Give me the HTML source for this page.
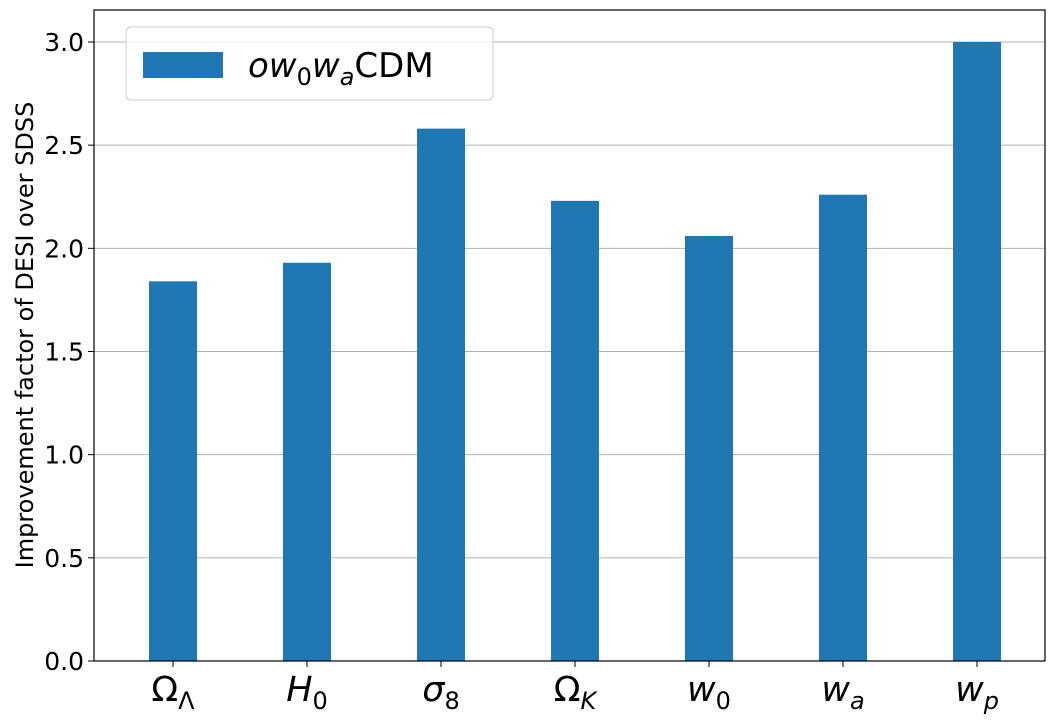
<!DOCTYPE html>
<html><head><meta charset="utf-8"><style>
body{margin:0;background:#fff;}
svg{font-family:"DejaVu Sans","Liberation Sans",sans-serif;}
</style></head><body>
<svg id="chart" width="1058" height="721" xmlns="http://www.w3.org/2000/svg">
<g id="grid"></g>
<g id="bars"></g>
<rect x="94" y="10" width="951" height="651" fill="none" stroke="#000" stroke-width="1.2"/>
<g id="yticks"></g>
<g id="xticks"></g>
<text x="33" y="335" font-size="24" text-anchor="middle" transform="rotate(-90 33 335)">Improvement factor of DESI over SDSS</text>
<g>
<rect x="126" y="27" width="367" height="73" rx="5" fill="#fff" fill-opacity="0.8" stroke="#ccc"/>
<rect x="143" y="52" width="80" height="26" fill="#1f77b4"/>
<text x="248" y="77" font-size="34"><tspan font-style="italic">ow</tspan><tspan font-size="24" dy="8">0</tspan><tspan font-style="italic" dy="-8">w</tspan><tspan font-size="24" font-style="italic" dy="8">a</tspan><tspan dy="-8">CDM</tspan></text>
</g>
</svg>
<script>
const categories=["ΩΛ","H0","σ8","ΩK","w0","wa","wp"];
const values=[1.84,1.93,2.58,2.23,2.06,2.26,3.0];
const yTicks=[0,0.5,1.0,1.5,2.0,2.5,3.0];
const mains=["Ω","H","σ","Ω","w","w","w"];
const subs=["Λ","0","8","K","0","a","p"];
const subItalic=[false,false,false,true,false,true,true];
const mainItalic=[false,true,true,false,true,true,true];
const NS="http://www.w3.org/2000/svg";
const L=94,R=1045,T=10,B=661,ymax=3.155;
const y=v=>B-(B-T)*v/ymax;
const step=134;
const xc=i=>173+step*i;
const bw=48;
function mk(t,a,p){const e=document.createElementNS(NS,t);for(const k in a)e.setAttribute(k,a[k]);p.appendChild(e);return e;}
const grid=document.getElementById('grid'),yt=document.getElementById('yticks'),xt=document.getElementById('xticks'),bars=document.getElementById('bars');
yTicks.forEach(v=>{
 const g=mk('line',{x1:L,x2:R,y1:y(v),y2:y(v),stroke:'#b0b0b0','stroke-width':1},grid);
 
 
 const t=mk('line',{x1:L-6,x2:L,y1:y(v),y2:y(v),stroke:'#000'},yt);
 
 
 const tx=mk('text',{x:L-10,y:y(v)+9,'font-size':25,'text-anchor':'end'},yt);
 tx.textContent=v.toFixed(1);
 
 
});
values.forEach((v,i)=>{
 const r=mk('rect',{x:xc(i)-bw/2,y:y(v),width:bw,height:B-y(v),fill:'#1f77b4'},bars);
 
 
 const t=mk('line',{x1:xc(i),x2:xc(i),y1:B,y2:B+6,stroke:'#000'},xt);
 
 
 const tx=mk('text',{x:xc(i),y:B+40,'font-size':35,'text-anchor':'middle'},xt);
 
 
 const m=mk('tspan',{'font-style':mainItalic[i]?'italic':'normal'},tx);m.textContent=mains[i];
 const s=mk('tspan',{'font-size':24,dy:8,'font-style':subItalic[i]?'italic':'normal'},tx);s.textContent=subs[i];
});
</script>
</body></html>
